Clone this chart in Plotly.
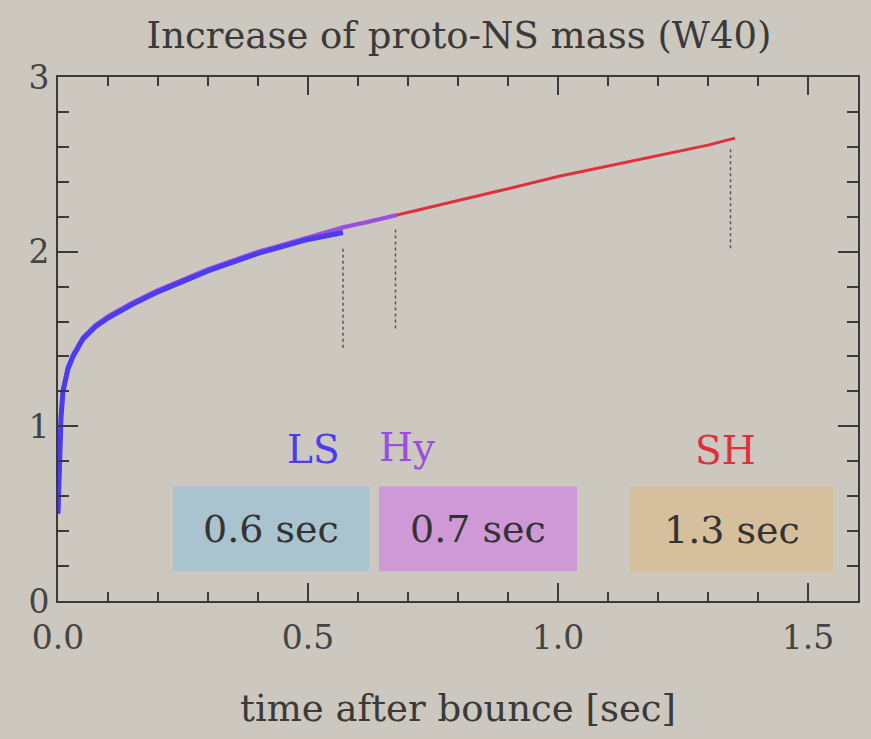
import plotly.graph_objects as go

# ---- data ----
t_LS = [0, 0.003, 0.006, 0.01, 0.02, 0.03, 0.05, 0.075, 0.1, 0.15, 0.2, 0.25, 0.3, 0.35, 0.4, 0.45, 0.5, 0.57]
m_LS = [0.5, 0.85, 1.05, 1.2, 1.33, 1.4, 1.5, 1.57, 1.62, 1.7, 1.77, 1.83, 1.89, 1.94, 1.99, 2.03, 2.07, 2.11]

t_Hy = [0, 0.003, 0.006, 0.01, 0.02, 0.03, 0.05, 0.075, 0.1, 0.15, 0.2, 0.25, 0.3, 0.35, 0.4, 0.45, 0.5, 0.57, 0.62, 0.678]
m_Hy = [0.5, 0.86, 1.06, 1.21, 1.34, 1.41, 1.51, 1.58, 1.63, 1.71, 1.78, 1.84, 1.9, 1.95, 2.0, 2.04, 2.08, 2.14, 2.17, 2.21]

t_SH = [0, 0.003, 0.006, 0.01, 0.02, 0.03, 0.05, 0.075, 0.1, 0.15, 0.2, 0.3, 0.4, 0.5, 0.6, 0.678, 0.8, 0.9, 1.0, 1.1, 1.2, 1.3, 1.354]
m_SH = [0.5, 0.86, 1.06, 1.21, 1.34, 1.41, 1.51, 1.58, 1.63, 1.71, 1.78, 1.9, 2.0, 2.08, 2.16, 2.21, 2.29, 2.36, 2.43, 2.49, 2.55, 2.61, 2.65]

eos_names = ["LS", "Hy", "SH"]
eos_colors = ["#4b3cf0", "#9a4fe0", "#e0303c"]
box_labels = ["0.6 sec", "0.7 sec", "1.3 sec"]
box_colors = ["#a9c3cf", "#cf98d6", "#d5bf9d"]
box_x0 = [0.23, 0.642, 1.144]
box_x1 = [0.622, 1.038, 1.55]
box_y0 = [0.17, 0.17, 0.16]
box_y1 = [0.655, 0.655, 0.655]
name_x = [0.51, 0.697, 1.335]
name_y = [0.87, 0.88, 0.86]

mark_t = [0.57, 0.675, 1.345]
mark_y0 = [1.45, 1.56, 2.02]
mark_y1 = [2.03, 2.13, 2.59]

BG = "#ccc7bf"
INK = "#3a3a3a"
FONT = "DejaVu Serif"

fig = go.Figure()

# draw SH below, Hy, then LS on top
fig.add_trace(go.Scatter(x=t_SH, y=m_SH, mode="lines",
                         line=dict(color=eos_colors[2], width=3), showlegend=False))
fig.add_trace(go.Scatter(x=t_Hy, y=m_Hy, mode="lines",
                         line=dict(color=eos_colors[1], width=4), showlegend=False))
fig.add_trace(go.Scatter(x=t_LS, y=m_LS, mode="lines",
                         line=dict(color=eos_colors[0], width=5), showlegend=False))

for t, a, b in zip(mark_t, mark_y0, mark_y1):
    fig.add_trace(go.Scatter(x=[t, t], y=[a, b], mode="lines",
                             line=dict(color="#555", width=1.5, dash="dot"), showlegend=False))

shapes = []
annotations = []
for i in range(3):
    shapes.append(dict(type="rect", xref="x", yref="y",
                       x0=box_x0[i], x1=box_x1[i], y0=box_y0[i], y1=box_y1[i],
                       fillcolor=box_colors[i], line=dict(width=0), layer="below"))
    annotations.append(dict(x=(box_x0[i] + box_x1[i]) / 2, y=(box_y0[i] + box_y1[i]) / 2,
                            xref="x", yref="y", text=box_labels[i], showarrow=False,
                            font=dict(family=FONT, size=38, color="#333")))
    annotations.append(dict(x=name_x[i], y=name_y[i], xref="x", yref="y",
                            text=eos_names[i], showarrow=False,
                            font=dict(family=FONT, size=39, color=eos_colors[i])))

fig.update_layout(
    width=871, height=739,
    margin=dict(l=58, r=11, t=77, b=138),
    paper_bgcolor=BG, plot_bgcolor=BG,
    shapes=shapes, annotations=annotations,
    title=dict(text="Increase of proto-NS mass (W40)", x=0.527, xanchor="center",
               y=0.953, yanchor="middle",
               font=dict(family=FONT, size=37, color="#3a3a3a")),
    font=dict(family=FONT, color="#3a3a3a"),
)

fig.update_xaxes(range=[0, 1.6], showgrid=False, zeroline=False,
                 showline=True, linecolor=INK, linewidth=2, mirror="ticks",
                 ticks="inside", ticklen=18, tickwidth=1.5, tickcolor=INK,
                 tickvals=[0, 0.5, 1.0, 1.5], ticktext=["0.0", "0.5", "1.0", "1.5"],
                 tickfont=dict(family=FONT, size=33, color="#444"),
                 ticklabelstandoff=6,
                 minor=dict(ticks="inside", dtick=0.1, ticklen=9, tickcolor=INK, tickwidth=1.5),
                 title=dict(text="time after bounce [sec]", standoff=40,
                            font=dict(family=FONT, size=37, color="#3a3a3a")))
fig.update_yaxes(range=[0, 3], showgrid=False, zeroline=False,
                 showline=True, linecolor=INK, linewidth=2, mirror="ticks",
                 ticks="inside", ticklen=20, tickwidth=1.5, tickcolor=INK,
                 tickvals=[0, 1, 2, 3], ticktext=["0", "1", "2", "3"],
                 tickfont=dict(family=FONT, size=33, color="#444"),
                 minor=dict(ticks="inside", dtick=0.2, ticklen=11, tickcolor=INK, tickwidth=1.5))

fig.write_html("out.html")
